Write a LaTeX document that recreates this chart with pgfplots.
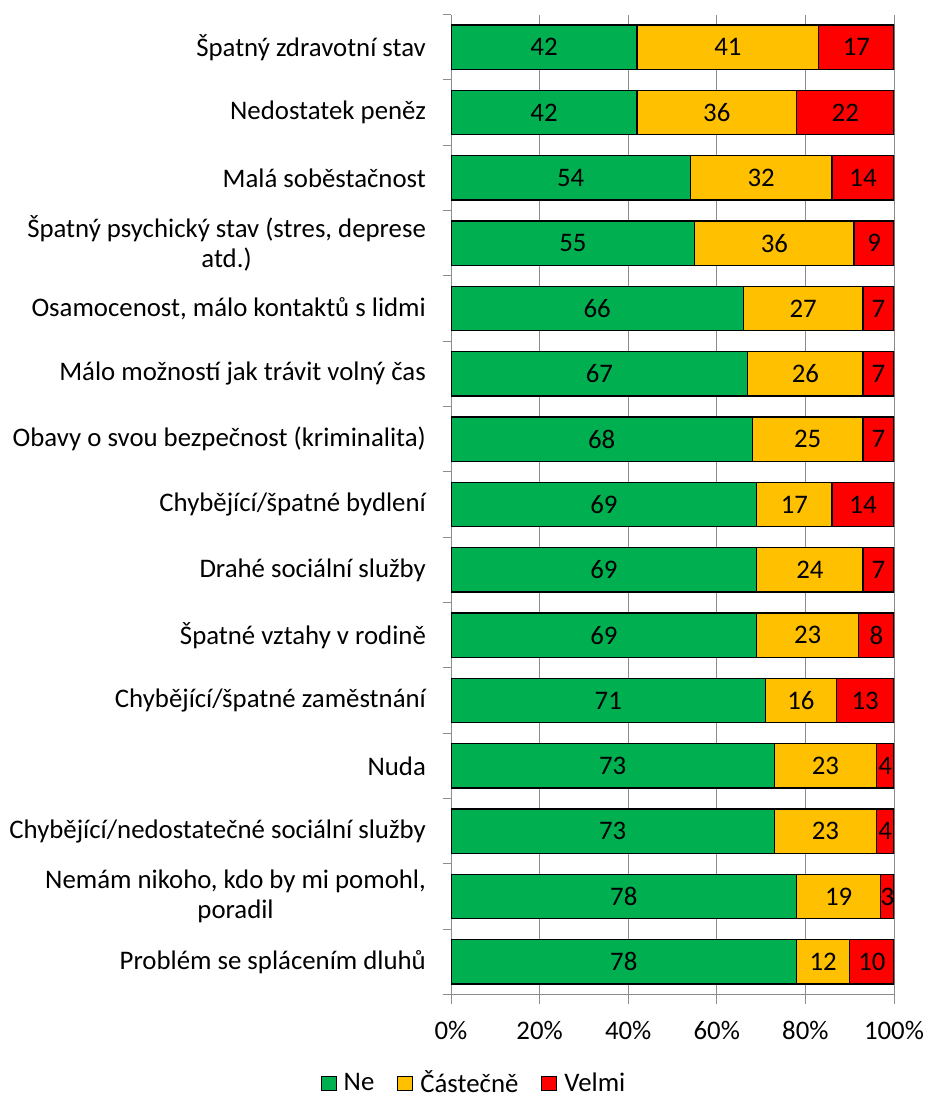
\documentclass[border=0pt]{standalone}
\usepackage{pgfplots}
\pgfplotsset{compat=1.18}
\usepackage{pgfplotstable}
\usepackage{fontspec}
\setmainfont{Carlito}
\definecolor{cgreen}{HTML}{00B050}
\definecolor{cyellow}{HTML}{FFC000}
\definecolor{cred}{HTML}{FF0000}
\definecolor{cgrid}{HTML}{8C8C8C}

% values and the middle of each segment (for the value labels)
\pgfplotstableread{
idx ne cast velmi mne mcast mvelmi
15 42 41 17 21   62.5 91.5
14 42 36 22 21   60   89
13 54 32 14 27   70   93
12 55 36 9  27.5 73   95.5
11 66 27 7  33   79.5 96.5
10 67 26 7  33.5 80   96.5
9  68 25 7  34   80.5 96.5
8  69 17 14 34.5 77.5 93
7  69 24 7  34.5 81   96.5
6  69 23 8  34.5 80.5 96
5  71 16 13 35.5 79   93.5
4  73 23 4  36.5 84.5 98
3  73 23 4  36.5 84.5 98
2  78 19 3  39   87.5 98.5
1  78 12 10 39   84   95
}\data

\pgfplotsset{common/.style={
  at={(451pt,102.4pt)}, anchor=south west,
  scale only axis, width=443pt, height=980pt,
  xmin=0, xmax=100, ymin=0.5, ymax=15.5}}

\newcommand{\cfont}{\fontsize{26.8}{30}\selectfont}

\begin{document}
\cfont
\begin{tikzpicture}[x=1pt,y=1pt]
\useasboundingbox (0,0) rectangle (927,1097);
\begin{axis}[
  common,
  xbar stacked, bar width=44.4pt,
  axis x line*=bottom, axis y line*=left,
  axis line style={draw=cgrid, line width=1pt},
  xtick={0,20,40,60,80,100},
  xticklabels={0\%,20\%,40\%,60\%,80\%,100\%},
  xmajorgrids, grid style={draw=cgrid, line width=1pt},
  major tick length=9pt, tick align=outside,
  xtick style={draw=cgrid, line width=1pt},
  ytick={1,...,15},
  ytick style={draw=none},
  minor ytick={0.5,1.5,...,15.5},
  minor tick length=8pt,
  minor y tick style={draw=cgrid, line width=1pt},
  yticklabels={
    Problém se splácením dluhů,
    {Nemám nikoho, kdo by mi pomohl,\\poradil},
    Chybějící/nedostatečné sociální služby,
    Nuda,
    Chybějící/špatné zaměstnání,
    Špatné vztahy v rodině,
    Drahé sociální služby,
    Chybějící/špatné bydlení,
    Obavy o svou bezpečnost (kriminalita),
    Málo možností jak trávit volný čas,
    {Osamocenost, málo kontaktů s lidmi},
    {Špatný psychický stav (stres, deprese\\atd.)},
    Malá soběstačnost,
    Nedostatek peněz,
    Špatný zdravotní stav},
  yticklabel style={align=center, font=\cfont, xshift=-7pt},
  xticklabel style={font=\cfont, yshift=-8pt},
  legend columns=3,
  legend style={draw=none, at={(0.0576,-0.091)}, anchor=center,
    font=\cfont,
    /tikz/every even column/.append style={column sep=16pt},
    nodes={inner xsep=7pt, inner ysep=1pt}},
  legend image code/.code={\draw[#1, line width=1pt] (0pt,-7pt) rectangle (15pt,7pt);},
]
\addplot[fill=cgreen, draw=black, line width=1.3pt] table[x=ne, y=idx] {\data};
\addplot[fill=cyellow, draw=black, line width=1.3pt] table[x=cast, y=idx] {\data};
\addplot[fill=cred, draw=black, line width=1.3pt] table[x=velmi, y=idx] {\data};
\legend{Ne,Částečně,Velmi}
\end{axis}
\begin{axis}[
  common, hide axis,
  point meta=explicit symbolic,
  nodes near coords={\pgfplotspointmeta},
  every node near coord/.append style={anchor=center, font=\cfont, text=black, inner sep=0pt},
]
\addplot[only marks, mark=o, mark size=0pt, mark options={draw=none}] table[x=mne, y=idx, meta=ne] {\data};
\addplot[only marks, mark=o, mark size=0pt, mark options={draw=none}] table[x=mcast, y=idx, meta=cast] {\data};
\addplot[only marks, mark=o, mark size=0pt, mark options={draw=none}] table[x=mvelmi, y=idx, meta=velmi] {\data};
\end{axis}
\end{tikzpicture}
\end{document}
